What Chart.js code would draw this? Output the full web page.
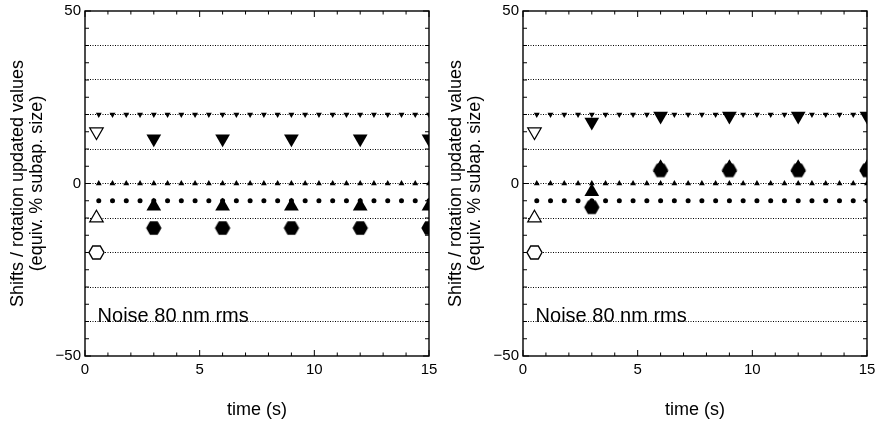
<!DOCTYPE html>
<html>
<head>
<meta charset="utf-8">
<script src="https://cdn.jsdelivr.net/npm/chart.js@4/dist/chart.umd.min.js"></script>
<style>
  html, body { margin: 0; padding: 0; background: #fff; }
  body { width: 877px; height: 421px; position: relative; overflow: hidden; }
  .panel { position: absolute; top: 0; width: 438px; height: 421px; }
  #p1 { left: 0; }
  #p2 { left: 438px; }
</style>
</head>
<body>
<div class="panel" id="p1"><canvas id="c1" width="438" height="421"></canvas></div>
<div class="panel" id="p2"><canvas id="c2" width="438" height="421"></canvas></div>
<script>
// ---------------- data ----------------
// reference (target) values, sampled every 0.6 s
const refTimes = [0.6, 1.2, 1.8, 2.4, 3.0, 3.6, 4.2, 4.8, 5.4, 6.0, 6.6, 7.2, 7.8, 8.4, 9.0, 9.6, 10.2, 10.8, 11.4, 12.0, 12.6, 13.2, 13.8, 14.4, 15.0];
const refShiftA = [20, 20, 20, 20, 20, 20, 20, 20, 20, 20, 20, 20, 20, 20, 20, 20, 20, 20, 20, 20, 20, 20, 20, 20, 20];
const refShiftB = [0, 0, 0, 0, 0, 0, 0, 0, 0, 0, 0, 0, 0, 0, 0, 0, 0, 0, 0, 0, 0, 0, 0, 0, 0];
const refRotation = [-5, -5, -5, -5, -5, -5, -5, -5, -5, -5, -5, -5, -5, -5, -5, -5, -5, -5, -5, -5, -5, -5, -5, -5, -5];

// initial values (open symbols)
const initTime = [0.5];
const initShiftA = [15];
const initShiftB = [-10];
const initRotation = [-20];

// updated values (filled symbols)
const updateTimes = [3, 6, 9, 12, 15];
const leftShiftA = [13, 13, 13, 13, 13];
const leftShiftB = [-6.6, -6.6, -6.6, -6.6, -6.6];
const leftRotation = [-12.9, -12.9, -12.9, -12.9, -12.9];
const rightShiftA = [17.8, 19.6, 19.6, 19.6, 19.6];
const rightShiftB = [-2.4, 4.6, 4.6, 4.6, 4.6];
const rightRotation = [-6.9, 3.8, 3.8, 3.8, 3.8];

// axes
const xMin = 0, xMax = 15, xStep = 1;
const xLabelled = [0, 5, 10, 15];
const yMin = -50, yMax = 50, yStep = 5;
const yLabelled = [-50, 0, 50];
const yGridValues = [-40, -30, -20, -10, 0, 10, 20, 30, 40];

const xTitle = 'time (s)';
const yTitle = ['Shifts / rotation updated values', '(equiv. % subap. size)'];
const noteText = 'Noise 80 nm rms';
const noteX = 0.55, noteY = -40;

// ---------------- rendering ----------------
const FONT = '"Liberation Sans", Arial, Helvetica, sans-serif';
Chart.defaults.font.family = FONT;
Chart.defaults.color = '#000';

function makeHexagon(R, filled) {
  const c = document.createElement('canvas');
  const s = Math.ceil(2 * R + 4);
  c.width = s; c.height = s;
  const g = c.getContext('2d');
  const cx = s / 2, cy = s / 2;
  g.beginPath();
  for (let i = 0; i < 6; i++) {
    const a = i * Math.PI / 3;
    const px = cx + R * Math.cos(a), py = cy + R * Math.sin(a);
    if (i === 0) g.moveTo(px, py); else g.lineTo(px, py);
  }
  g.closePath();
  if (filled) { g.fillStyle = '#000'; g.fill(); }
  else { g.fillStyle = '#fff'; g.fill(); g.strokeStyle = '#000'; g.lineWidth = 1.4; g.stroke(); }
  return c;
}
const hexFilled = makeHexagon(7.7, true);
const hexOpen = makeHexagon(7.5, false);

const pts = (xs, ys) => xs.map((x, i) => ({x: x, y: ys[i]}));

function ds(data, style, radius, rotation, filled, bw) {
  return {
    data: data,
    showLine: false,
    pointStyle: style,
    pointRadius: radius,
    pointHoverRadius: radius,
    pointRotation: rotation,
    pointBackgroundColor: filled ? '#000' : '#fff',
    pointBorderColor: '#000',
    pointBorderWidth: bw,
    clip: 0
  };
}

const framePlugin = {
  id: 'frame',
  afterDatasetsDraw(chart) {
    const {ctx, chartArea: {left, right, top, bottom}, scales: {x, y}} = chart;
    ctx.save();
    ctx.strokeStyle = '#000';
    ctx.lineWidth = 1;
    ctx.beginPath();
    x.ticks.forEach(t => {
      const px = x.getPixelForValue(t.value);
      const len = xLabelled.includes(t.value) ? 6 : 3.5;
      ctx.moveTo(px, bottom); ctx.lineTo(px, bottom - len);
      ctx.moveTo(px, top); ctx.lineTo(px, top + len);
    });
    y.ticks.forEach(t => {
      const py = y.getPixelForValue(t.value);
      const len = yLabelled.includes(t.value) ? 6 : 4;
      ctx.moveTo(left, py); ctx.lineTo(left + len, py);
      ctx.moveTo(right, py); ctx.lineTo(right - len, py);
    });
    ctx.stroke();
    ctx.lineWidth = 1.4;
    ctx.strokeRect(left, top, right - left, bottom - top);
    // annotation
    ctx.fillStyle = '#000';
    ctx.font = '20px ' + FONT;
    ctx.textAlign = 'left';
    ctx.textBaseline = 'alphabetic';
    ctx.fillText(noteText, x.getPixelForValue(noteX), y.getPixelForValue(noteY));
    ctx.restore();
  }
};

function makeChart(id, shiftA, shiftB, rotation) {
  return new Chart(document.getElementById(id), {
    type: 'scatter',
    data: {
      datasets: [
        ds(pts(updateTimes, shiftA), 'triangle', 8.5, 180, true, 0),
        ds(pts(updateTimes, shiftB), 'triangle', 8.5, 0, true, 0),
        ds(pts(updateTimes, rotation), hexFilled, 8, 0, true, 0),
        ds(pts(initTime, initShiftA), 'triangle', 7.8, 180, false, 1.2),
        ds(pts(initTime, initShiftB), 'triangle', 7.8, 0, false, 1.2),
        ds(pts(initTime, initRotation), hexOpen, 8, 0, false, 1),
        ds(pts(refTimes, refShiftA), 'triangle', 3.4, 180, true, 0),
        ds(pts(refTimes, refShiftB), 'triangle', 3.4, 0, true, 0),
        ds(pts(refTimes, refRotation), 'circle', 2.5, 0, true, 0)
      ]
    },
    options: {
      responsive: false,
      animation: false,
      events: [],
      layout: { padding: { left: 0, right: 6.5, top: 11, bottom: 0 } },
      plugins: { legend: { display: false }, tooltip: { enabled: false } },
      scales: {
        x: {
          type: 'linear', min: xMin, max: xMax,
          grid: { display: false, drawTicks: false },
          border: { display: false },
          ticks: {
            stepSize: xStep, autoSkip: false, maxRotation: 0, padding: 5,
            font: { size: 15 },
            callback: v => xLabelled.includes(v) ? String(v) : ''
          },
          title: { display: true, text: xTitle, font: { size: 18 }, padding: { top: 0, bottom: 0 } },
          afterFit: s => { s.height = 65; s.paddingLeft = 0; s.paddingRight = 0; }
        },
        y: {
          type: 'linear', min: yMin, max: yMax,
          grid: {
            drawTicks: false,
            lineWidth: 1,
            color: c => yGridValues.includes(c.tick.value) ? '#000' : 'rgba(0,0,0,0)'
          },
          border: { display: false, dash: [1, 1.5] },
          ticks: {
            stepSize: yStep, autoSkip: false, padding: 4,
            font: { size: 15 },
            callback: v => yLabelled.includes(v) ? (v < 0 ? '\u2212' + Math.abs(v) : String(v)) : ''
          },
          title: { display: true, text: yTitle, font: { size: 18, lineHeight: 1.05 }, padding: { top: 8.5, bottom: 0 } },
          afterFit: s => { s.width = 85; s.paddingTop = 0; s.paddingBottom = 0; }
        }
      }
    },
    plugins: [framePlugin]
  });
}

makeChart('c1', leftShiftA, leftShiftB, leftRotation);
makeChart('c2', rightShiftA, rightShiftB, rightRotation);
</script>
</body>
</html>
